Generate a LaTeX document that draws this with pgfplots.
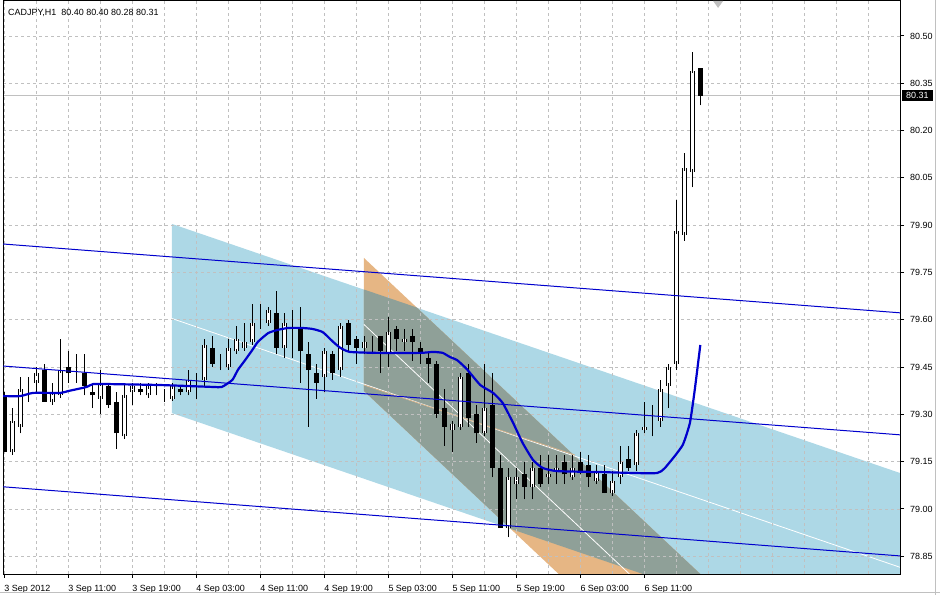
\documentclass[border=0pt]{standalone}
\usepackage{fontspec}
\setmainfont{Liberation Sans}
\usepackage{xcolor}
\usepackage{pgfplots}
\usepackage{pgfplotstable}
\pgfplotsset{compat=1.18}

\definecolor{chanblue}{RGB}{173,216,230}
\definecolor{chanorange}{RGB}{230,182,132}
\definecolor{chanmix}{RGB}{143,160,152}
\definecolor{mtblue}{RGB}{0,0,205}
\definecolor{mtgrid}{RGB}{192,192,192}
\definecolor{tanline}{RGB}{214,180,140}

% rising candles (close >= open)
\pgfplotstableread{
i  o     h     l     c
1  79.18 79.32 79.18 79.28
2  79.26 79.42 79.24 79.38
3  79.39 79.42 79.34 79.39
4  79.40 79.45 79.37 79.43
6  79.34 79.40 79.33 79.37
7  79.36 79.54 79.36 79.44
9  79.42 79.49 79.40 79.42
12 79.35 79.44 79.30 79.40
15 79.23 79.40 79.23 79.36
16 79.37 79.40 79.33 79.39
18 79.36 79.40 79.36 79.39
19 79.37 79.40 79.36 79.37
20 79.36 79.38 79.34 79.36
21 79.35 79.40 79.35 79.39
23 79.37 79.44 79.36 79.41
24 79.42 79.43 79.35 79.42
25 79.41 79.54 79.39 79.52
27 79.45 79.49 79.44 79.45
28 79.45 79.54 79.45 79.51
29 79.50 79.58 79.50 79.54
30 79.51 79.59 79.51 79.53
31 79.53 79.65 79.53 79.59
32 79.61 79.65 79.57 79.61
33 79.59 79.64 79.59 79.63
35 79.51 79.62 79.48 79.59
36 79.57 79.63 79.48 79.57
40 79.42 79.51 79.37 79.50
42 79.44 79.59 79.42 79.58
45 79.51 79.55 79.49 79.53
46 79.53 79.55 79.49 79.53
48 79.49 79.61 79.45 79.56
50 79.53 79.57 79.50 79.54
56 79.25 79.28 79.18 79.27
57 79.26 79.43 79.26 79.42
60 79.24 79.46 79.24 79.32
63 78.94 79.13 78.91 79.10
64 79.08 79.13 79.03 79.10
66 79.07 79.15 79.03 79.13
68 79.10 79.17 79.08 79.11
69 79.12 79.17 79.08 79.13
71 79.10 79.17 79.10 79.13
74 79.09 79.14 79.08 79.12
76 79.05 79.12 79.05 79.09
77 79.10 79.20 79.08 79.15
79 79.14 79.25 79.12 79.24
80 79.25 79.34 79.24 79.26
81 79.26 79.33 79.23 79.26
82 79.28 79.41 79.26 79.38
83 79.39 79.45 79.32 79.45
84 79.46 79.98 79.44 79.88
85 79.87 80.13 79.85 80.08
86 80.07 80.45 80.02 80.39
}\bull

% falling candles (close < open)
\pgfplotstableread{
i  o     h     l     c
0  79.36 79.37 79.18 79.18
5  79.44 79.46 79.34 79.34
8  79.45 79.50 79.40 79.43
10 79.43 79.49 79.36 79.39
11 79.37 79.40 79.32 79.36
13 79.39 79.40 79.32 79.33
14 79.34 79.37 79.19 79.24
17 79.38 79.40 79.36 79.37
22 79.38 79.39 79.36 79.37
26 79.51 79.55 79.45 79.46
34 79.62 79.69 79.49 79.51
37 79.57 79.64 79.40 79.50
38 79.49 79.53 79.26 79.44
39 79.43 79.46 79.35 79.40
41 79.49 79.50 79.41 79.43
43 79.59 79.60 79.50 79.52
44 79.54 79.55 79.46 79.51
47 79.55 79.55 79.43 79.50
49 79.57 79.58 79.50 79.54
51 79.55 79.57 79.47 79.53
52 79.51 79.53 79.46 79.49
53 79.48 79.50 79.40 79.46
54 79.46 79.47 79.29 79.30
55 79.32 79.38 79.20 79.26
58 79.43 79.46 79.26 79.29
59 79.30 79.33 79.21 79.24
61 79.33 79.43 79.10 79.13
62 79.13 79.17 78.94 78.94
65 79.11 79.15 79.03 79.07
67 79.13 79.17 79.07 79.08
70 79.15 79.17 79.08 79.11
72 79.15 79.18 79.11 79.12
73 79.14 79.17 79.07 79.10
75 79.11 79.14 79.05 79.05
78 79.16 79.20 79.12 79.13
87 80.40 80.40 80.28 80.31
}\bear

\begin{document}
\pagecolor{white}%
\begin{tikzpicture}
\begin{axis}[
  name=ax,
  scale only axis, width=897bp, height=573bp,
  xmin=-0.16, xmax=111.96, ymin=78.7937, ymax=80.611,
  set layers, clip mode=individual,
  axis line style={black, line width=1bp},
  bar/.style={mark=none, draw=none, error bars/y dir=both, error bars/y explicit,
    error bars/error mark=none},
  xtick={0,8,...,80},
  xticklabels={3 Sep 2012, 3 Sep 11:00, 3 Sep 19:00, 4 Sep 03:00, 4 Sep 11:00, 4 Sep 19:00,
    5 Sep 03:00, 5 Sep 11:00, 5 Sep 19:00, 6 Sep 03:00, 6 Sep 11:00},
  minor xtick={4,8,...,108},
  ytick={78.85,79.00,79.15,79.30,79.45,79.60,79.75,79.90,80.05,80.20,80.35,80.50},
  xtick pos=left, ytick pos=right, tick align=outside,
  major tick length=4bp, minor tick length=0pt,
  tick style={black, line width=1bp},
  xmajorgrids, xminorgrids, ymajorgrids,
  grid style={mtgrid, dash pattern=on 3bp off 3bp, line width=0.8bp},
  minor grid style={mtgrid, dash pattern=on 3bp off 3bp, line width=0.8bp},
  tick label style={font=\fontsize{9}{10}\selectfont, inner sep=0pt},
  /pgf/number format/assume math mode=true,
  yticklabel style={anchor=west, xshift=6bp,
    /pgf/number format/fixed, /pgf/number format/fixed zerofill, /pgf/number format/precision=2},
  xticklabel style={anchor=base west, yshift=-13bp},
  extra y ticks={80.31},
  extra y tick style={major tick length=0pt,
    major grid style={solid, mtgrid, line width=0.8bp},
    yticklabel style={fill=black, text=white, inner xsep=4bp, inner ysep=2.3bp, xshift=-4bp}},
]
% channels (background objects)
\addplot[on layer=axis background, fill=chanblue, draw=none]
  coordinates {(20.95,79.904)(113,79.105)(113,78.506)(20.95,79.304)} --cycle;
\addplot[on layer=axis background, fill=chanorange, draw=none]
  coordinates {(44.96,79.796)(90,78.722)(90,78.300)(44.96,79.374)} --cycle;
\addplot[on layer=axis background, fill=chanmix, draw=none]
  coordinates {(44.96,79.696)(51.55,79.639)(91.1,78.696)(63.28,78.937)(44.96,79.374)} --cycle;
\addplot[on layer=axis background, white, line width=0.8bp] coordinates {(20.95,79.604)(113,78.806)};
\addplot[on layer=axis background, white, line width=0.8bp] coordinates {(44.96,79.585)(85,78.630)};
\addplot[on layer=axis background, tanline, line width=0.8bp] coordinates {(44.96,79.393)(71.34,79.171)};
\addplot[fill=mtgrid, draw=none]
  coordinates {(88.6,80.611)(89.85,80.611)(89.22,80.589)} --cycle;

% wicks
\addplot[bar, error bars/error bar style={draw=black, line width=1bp}]
  table[x=i, y=l, y error plus expr=\thisrow{h}-\thisrow{l}, y error minus expr=0] {\bull};
\addplot[bar, error bars/error bar style={draw=black, line width=1bp}]
  table[x=i, y=l, y error plus expr=\thisrow{h}-\thisrow{l}, y error minus expr=0] {\bear};
% falling bodies
\addplot[bar, error bars/error bar style={draw=black, line width=5.5bp}]
  table[x=i, y=c, y error plus expr=\thisrow{o}-\thisrow{c}, y error minus expr=0] {\bear};
% rising bodies: outline, then white inside with black caps
\addplot[bar, error bars/error bar style={draw=black, line width=5.5bp}]
  table[x=i, y=o, y error plus expr=\thisrow{c}-\thisrow{o}, y error minus expr=0] {\bull};
\addplot[bar, error bars/error bar style={draw=white, line width=3.5bp}, error bars/error mark=-,
  error bars/error mark options={draw=black, line width=1bp, mark size=2.75bp}]
  table[x=i, y=o, y error plus expr=\thisrow{c}-\thisrow{o}, y error minus expr=0] {\bull};

% standard deviation channel lines
\addplot[mtblue, line width=1bp] coordinates {(-0.5,79.841)(112.5,79.621)};
\addplot[mtblue, line width=1bp] coordinates {(-0.5,79.454)(112.5,79.234)};
\addplot[mtblue, line width=1bp] coordinates {(-0.5,79.071)(112.5,78.850)};

% moving average
\addplot[mtblue, line width=2.2bp, smooth, tension=0.3] coordinates {
(-0.2,79.358)(2,79.358)(3.6,79.368)(7,79.368)(8,79.374)(9.1,79.380)(10.3,79.387)
(11.1,79.396)(13.2,79.396)(19.5,79.393)(26,79.387)(27.2,79.387)(28.5,79.409)
(29.2,79.441)(30.1,79.472)(31,79.504)(31.7,79.530)(33,79.558)(34.2,79.568)
(35.5,79.574)(37.2,79.574)(38.5,79.571)(39.8,79.561)(41.1,79.530)(42,79.511)
(43.2,79.498)(46.6,79.495)(52,79.495)(53.6,79.498)(54.8,79.495)(55.7,79.482)
(56.6,79.472)(57.8,79.444)(59.5,79.393)(61.1,79.368)(62.3,79.336)(63.6,79.273)
(64.8,79.209)(66.1,79.155)(67.3,79.130)(69.1,79.120)(74.5,79.117)(81.6,79.114)
(83.2,79.149)(84.8,79.203)(85.7,79.273)(86.3,79.377)(87,79.520)};

\node[anchor=base west, inner sep=0pt, font=\fontsize{9}{10}\selectfont]
  at (rel axis cs:0,1) [xshift=5bp, yshift=-14.3bp] {CADJPY,H1\ \ 80.40 80.40 80.28 80.31};
\end{axis}
\draw[mtgrid, line width=1bp] (ax.south east) ++(35.5bp,-21bp) -- ++(0,595bp);
\draw[mtgrid, line width=1bp] (ax.south west) ++(-3bp,-18.5bp) -- ++(940bp,0);
\pgfresetboundingbox
\path[use as bounding box] (ax.south west) ++(-3bp,-21bp) rectangle ++(940bp,595bp);
\end{tikzpicture}
\end{document}
